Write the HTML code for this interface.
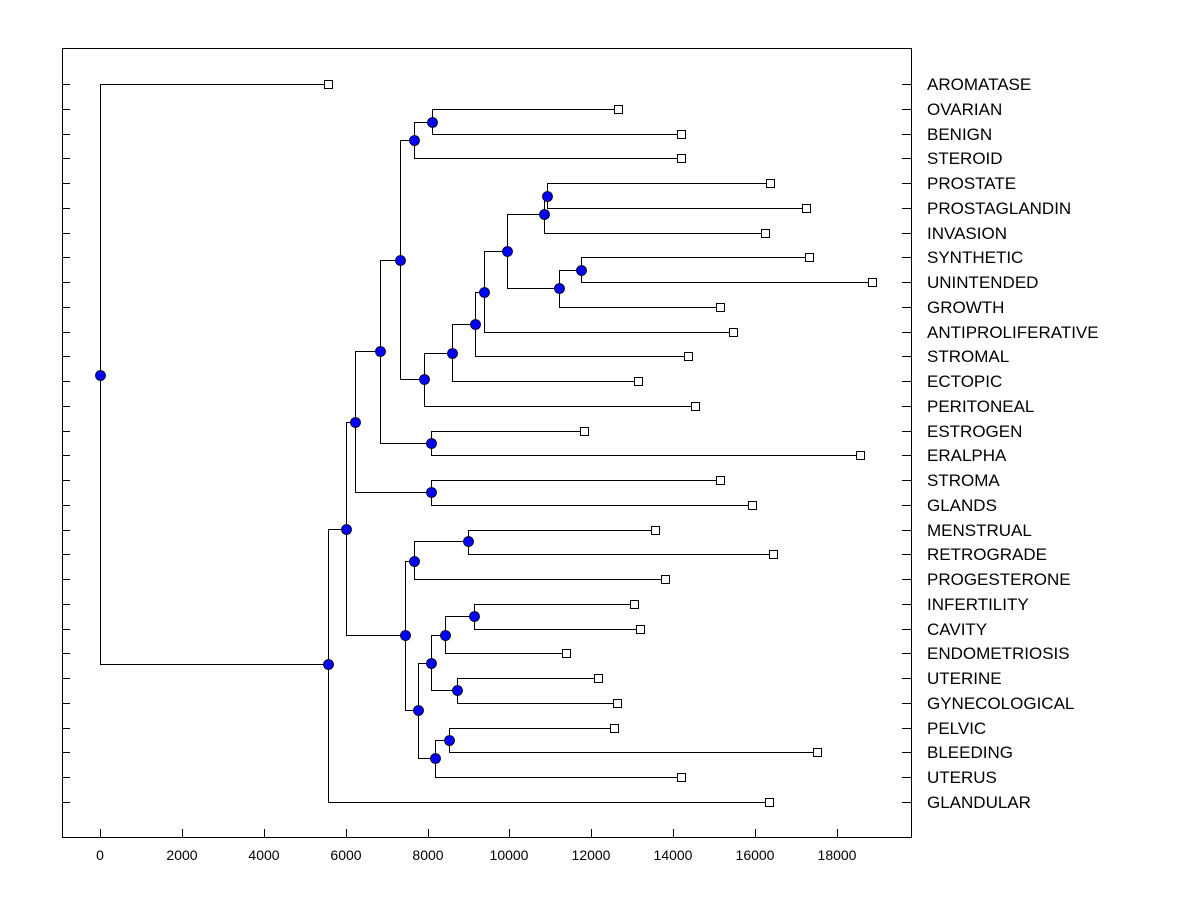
<!DOCTYPE html>
<html><head><style>body{margin:0;background:#fff}svg{display:block}</style></head><body>
<svg width="1200" height="900" xmlns="http://www.w3.org/2000/svg" font-family="Liberation Sans, Arial, sans-serif">
<rect x="0" y="0" width="1200" height="900" fill="#fff"/>
<rect x="62.5" y="48.5" width="849" height="789" fill="none" stroke="#000" stroke-width="1"/>
<g stroke="#000" stroke-width="1" fill="none" shape-rendering="crispEdges">
<path d="M62 84.5h8M62 109.5h8M62 134.5h8M62 158.5h8M62 183.5h8M62 208.5h8M62 233.5h8M62 257.5h8M62 282.5h8M62 307.5h8M62 332.5h8M62 356.5h8M62 381.5h8M62 406.5h8M62 431.5h8M62 455.5h8M62 480.5h8M62 505.5h8M62 530.5h8M62 554.5h8M62 579.5h8M62 604.5h8M62 629.5h8M62 653.5h8M62 678.5h8M62 703.5h8M62 728.5h8M62 752.5h8M62 777.5h8M62 802.5h8"/>
<path d="M902 84.5h9M902 109.5h9M902 134.5h9M902 158.5h9M902 183.5h9M902 208.5h9M902 233.5h9M902 257.5h9M902 282.5h9M902 307.5h9M902 332.5h9M902 356.5h9M902 381.5h9M902 406.5h9M902 431.5h9M902 455.5h9M902 480.5h9M902 505.5h9M902 530.5h9M902 554.5h9M902 579.5h9M902 604.5h9M902 629.5h9M902 653.5h9M902 678.5h9M902 703.5h9M902 728.5h9M902 752.5h9M902 777.5h9M902 802.5h9"/>
<path d="M100.5 829v8M182.5 829v8M264.5 829v8M346.5 829v8M428.5 829v8M509.5 829v8M591.5 829v8M673.5 829v8M755.5 829v8M837.5 829v8"/>
<g transform="translate(0.5,0.5)">
<path d="M328 84H100V664H328"/>
<path d="M346 529H328V802H769"/>
<path d="M355 422H346V635H405"/>
<path d="M380 351H355V492H431"/>
<path d="M720 480H431V505H752"/>
<path d="M400 260H380V443H431"/>
<path d="M584 431H431V455H860"/>
<path d="M414 140H400V379H424"/>
<path d="M432 122H414V158H681"/>
<path d="M618 109H432V134H681"/>
<path d="M452 353H424V406H695"/>
<path d="M475 324H452V381H638"/>
<path d="M484 292H475V356H688"/>
<path d="M507 251H484V332H733"/>
<path d="M544 214H507V288H559"/>
<path d="M547 196H544V233H765"/>
<path d="M770 183H547V208H806"/>
<path d="M581 270H559V307H720"/>
<path d="M809 257H581V282H872"/>
<path d="M414 561H405V710H418"/>
<path d="M468 541H414V579H665"/>
<path d="M655 530H468V554H773"/>
<path d="M431 663H418V758H435"/>
<path d="M445 635H431V690H457"/>
<path d="M474 616H445V653H566"/>
<path d="M634 604H474V629H640"/>
<path d="M598 678H457V703H617"/>
<path d="M449 740H435V777H681"/>
<path d="M614 728H449V752H817"/>
</g>
</g>
<g fill="#fff" stroke="#000" stroke-width="1">
<rect x="324.5" y="80.5" width="8" height="8"/><rect x="614.5" y="105.5" width="8" height="8"/><rect x="677.5" y="130.5" width="8" height="8"/><rect x="677.5" y="154.5" width="8" height="8"/><rect x="766.5" y="179.5" width="8" height="8"/><rect x="802.5" y="204.5" width="8" height="8"/><rect x="761.5" y="229.5" width="8" height="8"/><rect x="805.5" y="253.5" width="8" height="8"/><rect x="868.5" y="278.5" width="8" height="8"/><rect x="716.5" y="303.5" width="8" height="8"/><rect x="729.5" y="328.5" width="8" height="8"/><rect x="684.5" y="352.5" width="8" height="8"/><rect x="634.5" y="377.5" width="8" height="8"/><rect x="691.5" y="402.5" width="8" height="8"/><rect x="580.5" y="427.5" width="8" height="8"/><rect x="856.5" y="451.5" width="8" height="8"/><rect x="716.5" y="476.5" width="8" height="8"/><rect x="748.5" y="501.5" width="8" height="8"/><rect x="651.5" y="526.5" width="8" height="8"/><rect x="769.5" y="550.5" width="8" height="8"/><rect x="661.5" y="575.5" width="8" height="8"/><rect x="630.5" y="600.5" width="8" height="8"/><rect x="636.5" y="625.5" width="8" height="8"/><rect x="562.5" y="649.5" width="8" height="8"/><rect x="594.5" y="674.5" width="8" height="8"/><rect x="613.5" y="699.5" width="8" height="8"/><rect x="610.5" y="724.5" width="8" height="8"/><rect x="813.5" y="748.5" width="8" height="8"/><rect x="677.5" y="773.5" width="8" height="8"/><rect x="765.5" y="798.5" width="8" height="8"/>
</g>
<g fill="#0000ff" stroke="#000" stroke-width="0.8">
<circle cx="100.5" cy="375.5" r="5"/><circle cx="328.5" cy="664.5" r="5"/><circle cx="346.5" cy="529.5" r="5"/><circle cx="355.5" cy="422.5" r="5"/><circle cx="380.5" cy="351.5" r="5"/><circle cx="431.5" cy="492.5" r="5"/><circle cx="400.5" cy="260.5" r="5"/><circle cx="431.5" cy="443.5" r="5"/><circle cx="414.5" cy="140.5" r="5"/><circle cx="432.5" cy="122.5" r="5"/><circle cx="424.5" cy="379.5" r="5"/><circle cx="452.5" cy="353.5" r="5"/><circle cx="475.5" cy="324.5" r="5"/><circle cx="484.5" cy="292.5" r="5"/><circle cx="507.5" cy="251.5" r="5"/><circle cx="544.5" cy="214.5" r="5"/><circle cx="547.5" cy="196.5" r="5"/><circle cx="559.5" cy="288.5" r="5"/><circle cx="581.5" cy="270.5" r="5"/><circle cx="405.5" cy="635.5" r="5"/><circle cx="414.5" cy="561.5" r="5"/><circle cx="468.5" cy="541.5" r="5"/><circle cx="418.5" cy="710.5" r="5"/><circle cx="431.5" cy="663.5" r="5"/><circle cx="445.5" cy="635.5" r="5"/><circle cx="474.5" cy="616.5" r="5"/><circle cx="457.5" cy="690.5" r="5"/><circle cx="435.5" cy="758.5" r="5"/><circle cx="449.5" cy="740.5" r="5"/>
</g>
<g font-size="17" fill="#000">
<text x="927" y="90">AROMATASE</text><text x="927" y="115">OVARIAN</text><text x="927" y="140">BENIGN</text><text x="927" y="164">STEROID</text><text x="927" y="189">PROSTATE</text><text x="927" y="214">PROSTAGLANDIN</text><text x="927" y="239">INVASION</text><text x="927" y="263">SYNTHETIC</text><text x="927" y="288">UNINTENDED</text><text x="927" y="313">GROWTH</text><text x="927" y="338">ANTIPROLIFERATIVE</text><text x="927" y="362">STROMAL</text><text x="927" y="387">ECTOPIC</text><text x="927" y="412">PERITONEAL</text><text x="927" y="437">ESTROGEN</text><text x="927" y="461">ERALPHA</text><text x="927" y="486">STROMA</text><text x="927" y="511">GLANDS</text><text x="927" y="536">MENSTRUAL</text><text x="927" y="560">RETROGRADE</text><text x="927" y="585">PROGESTERONE</text><text x="927" y="610">INFERTILITY</text><text x="927" y="635">CAVITY</text><text x="927" y="659">ENDOMETRIOSIS</text><text x="927" y="684">UTERINE</text><text x="927" y="709">GYNECOLOGICAL</text><text x="927" y="734">PELVIC</text><text x="927" y="758">BLEEDING</text><text x="927" y="783">UTERUS</text><text x="927" y="808">GLANDULAR</text>
</g>
<g font-size="14" fill="#000" text-anchor="middle">
<text x="100" y="860">0</text><text x="182" y="860">2000</text><text x="264" y="860">4000</text><text x="346" y="860">6000</text><text x="428" y="860">8000</text><text x="509" y="860">10000</text><text x="591" y="860">12000</text><text x="673" y="860">14000</text><text x="755" y="860">16000</text><text x="837" y="860">18000</text>
</g>
</svg>
</body></html>
